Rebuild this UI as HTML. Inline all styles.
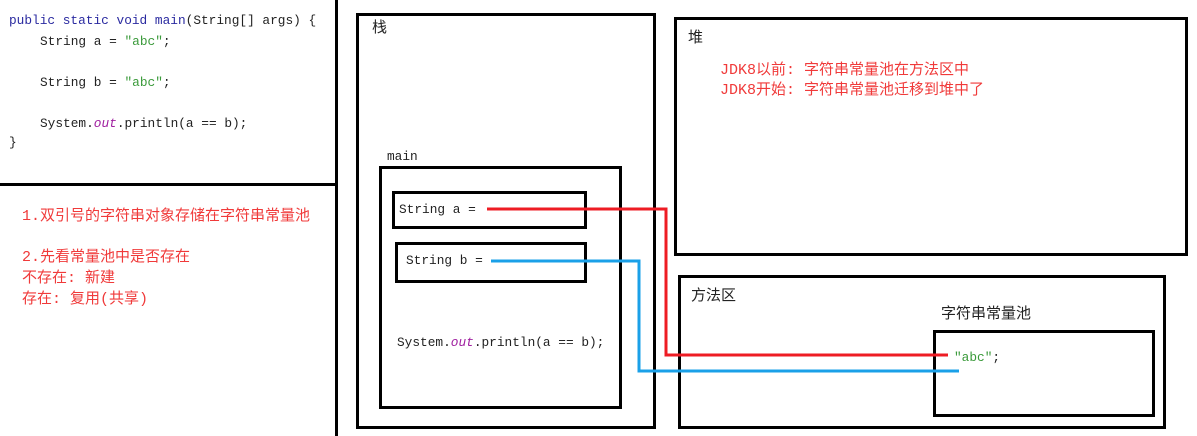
<!DOCTYPE html>
<html><head><meta charset="utf-8"><style>
body{margin:0;width:1197px;height:436px;background:#fff;position:relative;overflow:hidden;font-family:"Liberation Mono","Noto Sans CJK SC",monospace;}
.b{position:absolute;border:3px solid #000;box-sizing:border-box;}
.t{position:absolute;white-space:pre;font-size:12.8px;line-height:16px;color:#222;}
.cn{font-family:"Liberation Mono","Noto Sans CJK SC",monospace;font-size:15px;line-height:20px;}
.r{color:#f03a3a;}
.g{color:#3a9a3a;}
.k{color:#2a2aa0;}
.p{color:#a020a0;font-style:italic;}
.l{position:absolute;}
</style></head><body>
<div class="l" style="left:335px;top:0;width:3px;height:436px;background:#000"></div>
<div class="l" style="left:0;top:183px;width:336px;height:3px;background:#000"></div>

<div class="t" style="left:9px;top:13px"><span class="k">public static void main</span>(String[] args) {</div>
<div class="t" style="left:40px;top:34px">String a = <span class="g">"abc"</span>;</div>
<div class="t" style="left:40px;top:75px">String b = <span class="g">"abc"</span>;</div>
<div class="t" style="left:40px;top:116px">System.<span class="p">out</span>.println(a == b);</div>
<div class="t" style="left:9px;top:135px">}</div>

<div class="t cn r" style="left:22px;top:207px">1.双引号的字符串对象存储在字符串常量池</div>
<div class="t cn r" style="left:22px;top:248px">2.先看常量池中是否存在</div>
<div class="t cn r" style="left:22px;top:269px">不存在: 新建</div>
<div class="t cn r" style="left:22px;top:290px">存在: 复用(共享)</div>

<div class="b" style="left:356px;top:13px;width:300px;height:416px"></div>
<div class="t cn" style="left:372px;top:19px">栈</div>
<div class="t" style="left:387px;top:149px">main</div>
<div class="b" style="left:379px;top:166px;width:243px;height:243px"></div>
<div class="b" style="left:392px;top:191px;width:195px;height:38px"></div>
<div class="t" style="left:399px;top:202px">String a =</div>
<div class="b" style="left:395px;top:242px;width:192px;height:41px"></div>
<div class="t" style="left:406px;top:253px">String b =</div>
<div class="t" style="left:397px;top:335px">System.<span class="p">out</span>.println(a == b);</div>

<div class="b" style="left:674px;top:17px;width:514px;height:239px"></div>
<div class="t cn" style="left:688px;top:29px">堆</div>
<div class="t cn r" style="left:720px;top:61px">JDK8以前: 字符串常量池在方法区中</div>
<div class="t cn r" style="left:720px;top:81px">JDK8开始: 字符串常量池迁移到堆中了</div>

<div class="b" style="left:678px;top:275px;width:488px;height:154px"></div>
<div class="t cn" style="left:691px;top:287px">方法区</div>
<div class="t cn" style="left:941px;top:305px">字符串常量池</div>
<div class="b" style="left:933px;top:330px;width:222px;height:87px"></div>
<div class="t" style="left:954px;top:350px"><span class="g">"abc"</span>;</div>

<svg class="l" style="left:0;top:0" width="1197" height="436">
<polyline points="487,209 666,209 666,355 948,355" fill="none" stroke="#ee1c24" stroke-width="3"/>
<polyline points="491,261 639,261 639,371 959,371" fill="none" stroke="#1aa0e8" stroke-width="3"/>
</svg>
</body></html>
